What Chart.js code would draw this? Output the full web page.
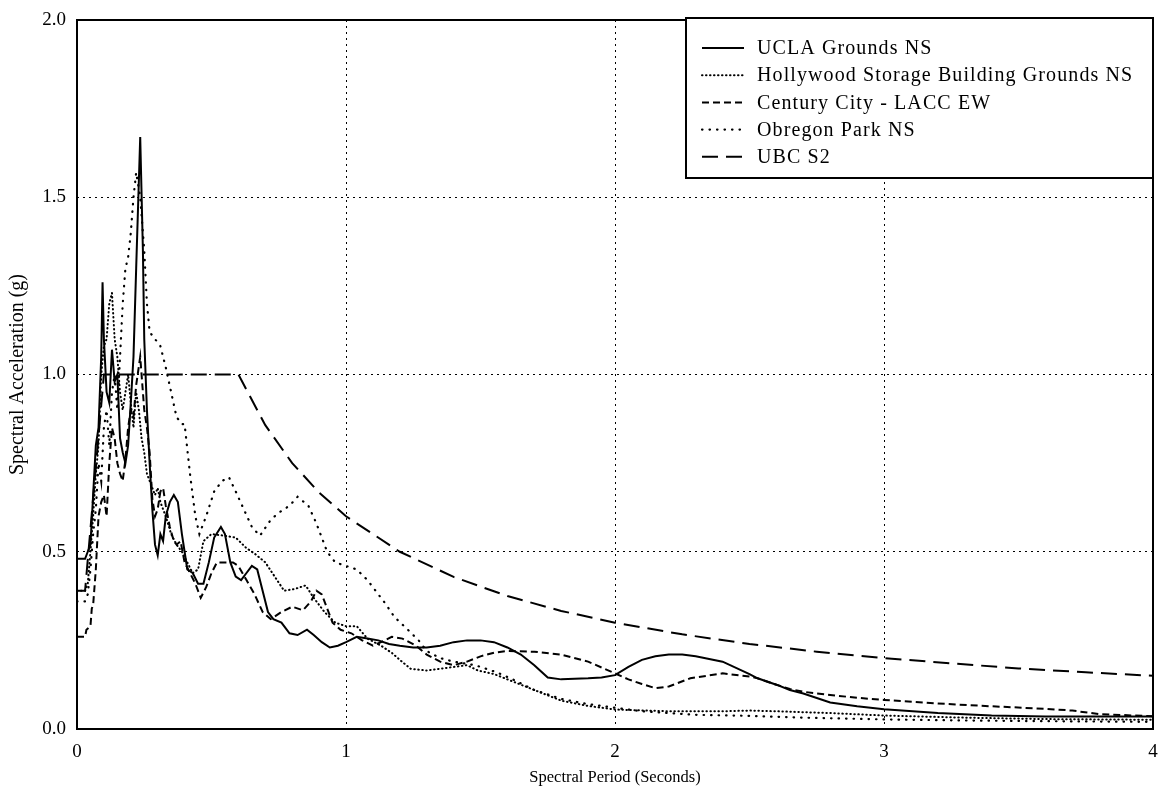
<!DOCTYPE html>
<html><head><meta charset="utf-8">
<script src="https://cdn.jsdelivr.net/npm/chart.js@4.4.1/dist/chart.umd.min.js"></script>
<style>html,body{margin:0;padding:0;background:#fff;}#wrap{width:1158px;height:787px;}</style>
</head><body><div id="wrap"><canvas id="c" width="1158" height="787"></canvas></div>
<script>
const seriesLabels = ['UCLA Grounds NS','Hollywood Storage Building Grounds NS','Century City - LACC EW','Obregon Park NS','UBC S2'];
const xTickValues = [0,1,2,3,4];
const xTickLabels = ['0','1','2','3','4'];
const yTickValues = [0,0.5,1,1.5,2];
const yTickLabels = ['0.0','0.5','1.0','1.5','2.0'];
const xTitle = 'Spectral Period (Seconds)';
const yTitle = 'Spectral Acceleration (g)';

const uclaT = [0,0.03,0.04,0.05,0.06,0.07,0.08,0.09,0.095,0.10,0.11,0.12,0.13,0.14,0.15,0.16,0.17,0.18,0.19,0.20,0.21,0.22,0.235,0.245,0.25,0.26,0.27,0.28,0.29,0.30,0.31,0.32,0.33,0.345,0.36,0.375,0.39,0.40,0.41,0.43,0.45,0.47,0.49,0.51,0.535,0.55,0.57,0.59,0.61,0.63,0.65,0.67,0.69,0.71,0.73,0.76,0.79,0.82,0.855,0.88,0.91,0.94,0.97,1.0,1.04,1.08,1.12,1.16,1.2,1.25,1.3,1.35,1.4,1.45,1.5,1.55,1.6,1.65,1.7,1.75,1.8,1.85,1.9,1.95,2.0,2.05,2.1,2.15,2.2,2.25,2.3,2.4,2.5,2.53,2.6,2.65,2.7,2.8,2.9,3.0,3.2,3.4,3.6,3.8,4.0];
const uclaSa = [0.48,0.48,0.5,0.52,0.66,0.8,0.85,1.05,1.26,1.1,0.95,0.92,1.07,0.98,1.0,0.82,0.78,0.75,0.8,0.92,1.05,1.3,1.67,1.35,1.1,0.9,0.75,0.62,0.52,0.49,0.55,0.53,0.6,0.64,0.66,0.64,0.55,0.5,0.45,0.44,0.41,0.41,0.47,0.54,0.57,0.55,0.47,0.43,0.42,0.44,0.46,0.45,0.39,0.33,0.31,0.30,0.27,0.265,0.28,0.265,0.245,0.23,0.235,0.245,0.26,0.255,0.25,0.24,0.235,0.23,0.23,0.235,0.245,0.25,0.25,0.245,0.23,0.21,0.18,0.145,0.14,0.142,0.143,0.145,0.152,0.175,0.195,0.205,0.21,0.21,0.205,0.19,0.155,0.143,0.125,0.11,0.1,0.075,0.064,0.056,0.045,0.038,0.035,0.035,0.035];

const hollyT = [0,0.03,0.04,0.05,0.06,0.07,0.08,0.09,0.10,0.11,0.12,0.13,0.14,0.15,0.16,0.17,0.18,0.19,0.20,0.21,0.22,0.23,0.24,0.25,0.26,0.27,0.28,0.29,0.30,0.31,0.33,0.35,0.37,0.39,0.41,0.43,0.45,0.47,0.50,0.55,0.59,0.63,0.66,0.70,0.735,0.77,0.81,0.85,0.88,0.92,0.96,1.0,1.04,1.08,1.13,1.17,1.2,1.24,1.3,1.35,1.45,1.49,1.55,1.6,1.7,1.8,1.9,2.0,2.2,2.4,2.5,2.6,2.8,3.0,3.3,3.6,4.0];
const hollySa = [0.39,0.39,0.41,0.5,0.6,0.72,0.8,1.0,1.08,1.1,1.2,1.23,1.1,1.05,0.95,0.9,0.95,1.0,0.92,0.85,0.95,0.9,0.82,0.78,0.72,0.7,0.68,0.66,0.68,0.64,0.6,0.55,0.52,0.5,0.47,0.44,0.45,0.53,0.55,0.545,0.54,0.51,0.495,0.47,0.43,0.39,0.395,0.405,0.37,0.33,0.3,0.29,0.29,0.255,0.235,0.215,0.195,0.17,0.165,0.17,0.18,0.165,0.155,0.14,0.11,0.08,0.065,0.055,0.05,0.05,0.052,0.05,0.045,0.038,0.032,0.028,0.026];

const centuryT = [0,0.03,0.035,0.05,0.055,0.06,0.07,0.08,0.09,0.10,0.11,0.12,0.13,0.14,0.15,0.16,0.17,0.18,0.19,0.20,0.21,0.22,0.235,0.25,0.26,0.27,0.28,0.29,0.30,0.31,0.32,0.33,0.345,0.36,0.37,0.385,0.40,0.42,0.44,0.46,0.48,0.50,0.52,0.55,0.58,0.60,0.63,0.66,0.69,0.72,0.76,0.80,0.84,0.87,0.89,0.91,0.93,0.95,0.98,1.02,1.06,1.10,1.13,1.17,1.21,1.26,1.3,1.35,1.4,1.45,1.5,1.55,1.6,1.7,1.8,1.9,2.0,2.05,2.1,2.15,2.2,2.28,2.4,2.5,2.53,2.6,2.65,2.7,2.8,2.9,3.0,3.2,3.4,3.6,3.7,3.8,4.0];
const centurySa = [0.26,0.26,0.28,0.29,0.34,0.35,0.45,0.6,0.64,0.66,0.6,0.75,0.85,0.82,0.75,0.72,0.7,0.76,0.85,0.9,0.88,0.97,1.05,0.9,0.85,0.78,0.65,0.6,0.62,0.67,0.68,0.63,0.57,0.53,0.52,0.53,0.47,0.44,0.41,0.37,0.4,0.44,0.47,0.47,0.47,0.46,0.42,0.38,0.33,0.31,0.33,0.345,0.335,0.36,0.39,0.38,0.34,0.3,0.28,0.27,0.25,0.235,0.245,0.26,0.255,0.235,0.21,0.19,0.18,0.19,0.205,0.215,0.22,0.218,0.21,0.19,0.157,0.14,0.127,0.115,0.12,0.143,0.157,0.148,0.143,0.125,0.113,0.105,0.096,0.088,0.082,0.072,0.064,0.057,0.052,0.042,0.036];

const obregonT = [0,0.03,0.04,0.05,0.06,0.07,0.08,0.09,0.10,0.11,0.12,0.13,0.14,0.15,0.16,0.17,0.18,0.19,0.20,0.21,0.22,0.235,0.25,0.26,0.27,0.29,0.31,0.33,0.35,0.37,0.39,0.40,0.42,0.44,0.455,0.48,0.51,0.54,0.565,0.59,0.62,0.65,0.68,0.72,0.75,0.79,0.82,0.86,0.89,0.93,0.96,1.0,1.04,1.08,1.11,1.15,1.18,1.23,1.27,1.3,1.35,1.4,1.48,1.56,1.62,1.7,1.8,1.9,2.0,2.1,2.2,2.3,2.5,2.7,3.0,3.3,3.6,4.0];
const obregonSa = [0.36,0.36,0.38,0.45,0.55,0.62,0.75,0.7,0.85,0.9,0.8,0.95,1.0,0.9,1.05,1.2,1.3,1.33,1.4,1.5,1.57,1.5,1.35,1.2,1.12,1.1,1.08,1.02,0.95,0.88,0.86,0.86,0.72,0.6,0.55,0.6,0.67,0.7,0.71,0.67,0.62,0.57,0.545,0.59,0.61,0.63,0.655,0.63,0.58,0.5,0.47,0.46,0.45,0.42,0.39,0.35,0.316,0.28,0.25,0.22,0.2,0.19,0.18,0.16,0.14,0.11,0.085,0.07,0.06,0.05,0.045,0.04,0.037,0.032,0.027,0.024,0.022,0.02];

const ubcT = [0,0.03,0.1,0.6,0.7,0.8,0.9,1.0,1.2,1.4,1.6,1.8,2.0,2.25,2.5,2.75,3.0,3.25,3.5,3.75,4.0];
const ubcSa = [0.39,0.39,1.0,1.0,0.857,0.75,0.667,0.6,0.5,0.429,0.375,0.333,0.3,0.267,0.24,0.218,0.2,0.185,0.171,0.16,0.15];

function pts(t, s){ return t.map((v,i)=>({x:v,y:s[i]})); }
const SERIF = '"Liberation Serif", "Times New Roman", serif';

const styles = [
  {borderWidth:2, borderDash:[], cap:'butt'},
  {borderWidth:2, borderDash:[0.5,3.5], cap:'round'},
  {borderWidth:2, borderDash:[7,4], cap:'butt'},
  {borderWidth:2.2, borderDash:[0.5,7], cap:'round'},
  {borderWidth:2, borderDash:[16,8], cap:'butt'}
];
const seriesData = [pts(uclaT,uclaSa), pts(hollyT,hollySa), pts(centuryT,centurySa), pts(obregonT,obregonSa), pts(ubcT,ubcSa)];

const datasets = seriesData.map((d,i)=>({
  label: seriesLabels[i], data: d, borderColor:'#000', backgroundColor:'#000',
  borderWidth: styles[i].borderWidth, borderDash: styles[i].borderDash, borderCapStyle: styles[i].cap,
  pointRadius:0, tension:0, fill:false, showLine:true
}));

const framePlugin = {
  id:'frameLegend',
  afterDatasetsDraw(chart){
    const {ctx, chartArea:a} = chart;
    ctx.save();
    ctx.strokeStyle='#000'; ctx.lineWidth=2; ctx.setLineDash([]);
    ctx.strokeRect(a.left, a.top, a.right-a.left, a.bottom-a.top);
    const bx = 686, by = a.top - 2, bw = a.right-686, bh = 160;
    ctx.fillStyle='#fff'; ctx.fillRect(bx,by,bw,bh);
    ctx.lineWidth=2; ctx.strokeRect(bx,by,bw,bh);
    ctx.font = '20px ' + SERIF; ctx.fillStyle='#000'; ctx.textBaseline='middle'; ctx.textAlign='left';
    if ('letterSpacing' in ctx) ctx.letterSpacing = '1.1px';
    chart.data.datasets.forEach((ds,i)=>{
      const y = by + 30 + i*27.2;
      ctx.beginPath(); ctx.lineWidth = ds.borderWidth; ctx.setLineDash(ds.borderDash); ctx.lineCap = ds.borderCapStyle;
      ctx.moveTo(702,y); ctx.lineTo(744,y); ctx.stroke();
      ctx.setLineDash([]); ctx.lineCap='butt';
      ctx.fillText(ds.label, 757, y+1);
    });
    ctx.restore();
  }
};

new Chart(document.getElementById('c'), {
  type:'line',
  data:{datasets},
  options:{
    responsive:false, animation:false, devicePixelRatio:1,
    layout:{padding:{top:20,right:5,left:0,bottom:0}},
    plugins:{legend:{display:false}, tooltip:{enabled:false}},
    scales:{
      x:{type:'linear', min:0, max:4,
        afterFit(s){ s.height = 58; s.paddingRight = 0; s.paddingLeft = 0; },
        afterBuildTicks(s){ s.ticks = xTickValues.map(v=>({value:v})); },
        ticks:{callback:(v,i)=>xTickLabels[i], color:'#000', font:{family:SERIF,size:19}, padding:12, maxRotation:0},
        grid:{color:'#000', lineWidth:1, drawTicks:false},
        border:{display:false, dash:[2,4]},
        title:{display:true, text:xTitle, color:'#000', font:{family:SERIF,size:16.5}, padding:{top:0,bottom:-1}}
      },
      y:{type:'linear', min:0, max:2,
        afterFit(s){ s.width = 77; s.paddingTop = 0; s.paddingBottom = 0; },
        afterBuildTicks(s){ s.ticks = yTickValues.map(v=>({value:v})); },
        ticks:{callback:(v,i)=>yTickLabels[i], color:'#000', font:{family:SERIF,size:19}, padding:11},
        grid:{color:'#000', lineWidth:1, drawTicks:false},
        border:{display:false, dash:[2,4]},
        title:{display:true, text:yTitle, color:'#000', font:{family:SERIF,size:20}, padding:{top:6,bottom:0}}
      }
    }
  },
  plugins:[framePlugin]
});
</script></body></html>
